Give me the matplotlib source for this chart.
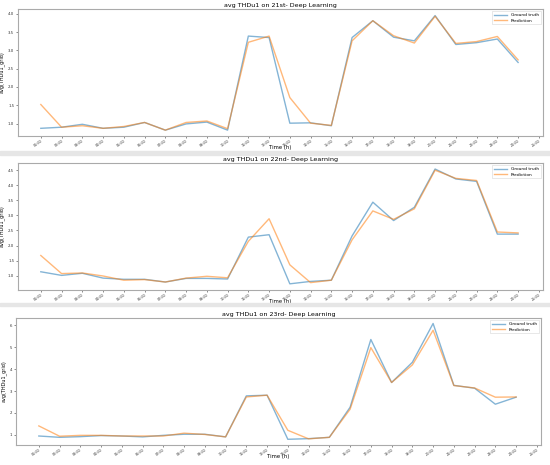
import matplotlib
matplotlib.use("Agg")
import matplotlib.pyplot as plt
from matplotlib.patches import Rectangle

hours = [f"{h:02d}:00" for h in range(1, 26)]

gt_21 = [0.87, 0.90, 0.98, 0.87, 0.90, 1.03, 0.82, 0.99, 1.04, 0.82, 3.39, 3.35,
         1.01, 1.02, 0.94, 3.35, 3.81, 3.36, 3.26, 3.95, 3.16, 3.21, 3.31, 2.67]
pr_21 = [1.52, 0.90, 0.94, 0.87, 0.92, 1.03, 0.82, 1.03, 1.07, 0.86, 3.22, 3.39,
         1.71, 1.01, 0.95, 3.26, 3.81, 3.40, 3.20, 3.93, 3.19, 3.24, 3.38, 2.74]

gt_22 = [1.13, 1.01, 1.08, 0.92, 0.88, 0.88, 0.79, 0.91, 0.91, 0.89, 2.28, 2.36,
         0.73, 0.81, 0.85, 2.32, 3.44, 2.83, 3.27, 4.54, 4.21, 4.13, 2.38, 2.38]
pr_22 = [1.67, 1.07, 1.09, 0.99, 0.85, 0.87, 0.79, 0.92, 0.98, 0.93, 2.14, 2.89,
         1.36, 0.77, 0.85, 2.19, 3.15, 2.87, 3.22, 4.50, 4.23, 4.16, 2.45, 2.42]

gt_23 = [0.95, 0.89, 0.92, 0.97, 0.95, 0.91, 0.98, 1.03, 1.03, 0.91, 2.78, 2.81,
         0.80, 0.83, 0.89, 2.26, 5.35, 3.39, 4.31, 6.08, 3.26, 3.13, 2.40, 2.72]
pr_23 = [1.41, 0.94, 0.98, 0.98, 0.95, 0.95, 0.95, 1.08, 1.02, 0.91, 2.73, 2.81,
         1.21, 0.82, 0.89, 2.17, 4.98, 3.39, 4.19, 5.77, 3.25, 3.14, 2.72, 2.73]

titles = ["avg THDu1 on 21st- Deep Learning",
          "avg THDu1 on 22nd- Deep Learning",
          "avg THDu1 on 23rd- Deep Learning"]
series = [(gt_21, pr_21), (gt_22, pr_22), (gt_23, pr_23)]
ylims = [(0.66, 4.13), (0.525, 4.74), (0.54, 6.33)]
yticks = [[1.0, 1.5, 2.0, 2.5, 3.0, 3.5, 4.0],
          [1.0, 1.5, 2.0, 2.5, 3.0, 3.5, 4.0, 4.5],
          [1, 2, 3, 4, 5, 6]]
ytick_labels = [[f"{v:.1f}" for v in yticks[0]],
                [f"{v:.1f}" for v in yticks[1]],
                [str(v) for v in yticks[2]]]

W, H = 550, 465
fig = plt.figure(figsize=(5.5, 4.65), dpi=100)

# separators between panels
for (y0, y1) in [(151, 155), (303, 306)]:
    fig.patches.append(Rectangle((0, 1 - y1 / H), 1, (y1 - y0) / H,
                                 transform=fig.transFigure, color="#e6e6e6", zorder=0))

# pixel boxes: left, right, top, bottom
boxes = [(18, 543, 9, 136), (18, 543, 163, 290), (16, 541, 318, 445)]

x = list(range(1, 25))
xt = list(range(1, 26))
for i, (l, r, t, b) in enumerate(boxes):
    ax = fig.add_axes([l / W, 1 - b / H, (r - l) / W, (b - t) / H])
    gt, pr = series[i]
    ax.plot(x, gt, color="#1f77b4", alpha=0.55, lw=1.0, label="Ground truth")
    ax.plot(x, pr, color="#ff7f0e", alpha=0.55, lw=1.0, label="Prediction")
    ax.set_xlim(-0.1, 25.2)
    ax.set_ylim(*ylims[i])
    ax.set_xticks(xt)
    ax.set_xticklabels(hours, rotation=35, fontsize=2.4, ha="right", rotation_mode="anchor")
    ax.set_yticks(yticks[i])
    ax.set_yticklabels(ytick_labels[i], fontsize=2.8)
    ax.tick_params(axis="x", length=1.2, width=0.4, pad=0.8, colors="#333333")
    ax.tick_params(axis="y", length=1.2, width=0.4, pad=1.5, colors="#333333")
    ax.set_title(titles[i], fontsize=4.6, pad=1.5)
    ax.set_xlabel("Time (h)", fontsize=3.8, va="center")
    ax.xaxis.set_label_coords(0.5, -0.09)
    ax.set_ylabel("avg(THDu1_grid)", fontsize=3.5, labelpad=2)
    for s in ax.spines.values():
        s.set_color("#aaaaaa")
        s.set_linewidth(0.8)
    leg = ax.legend(loc="upper right", fontsize=3.2, frameon=True, handlelength=3,
                    borderpad=0.4, labelspacing=0.3, fancybox=False)
    leg.get_frame().set_linewidth(0.4)
    leg.get_frame().set_edgecolor("#cccccc")

fig.savefig("out.png", dpi=100)
